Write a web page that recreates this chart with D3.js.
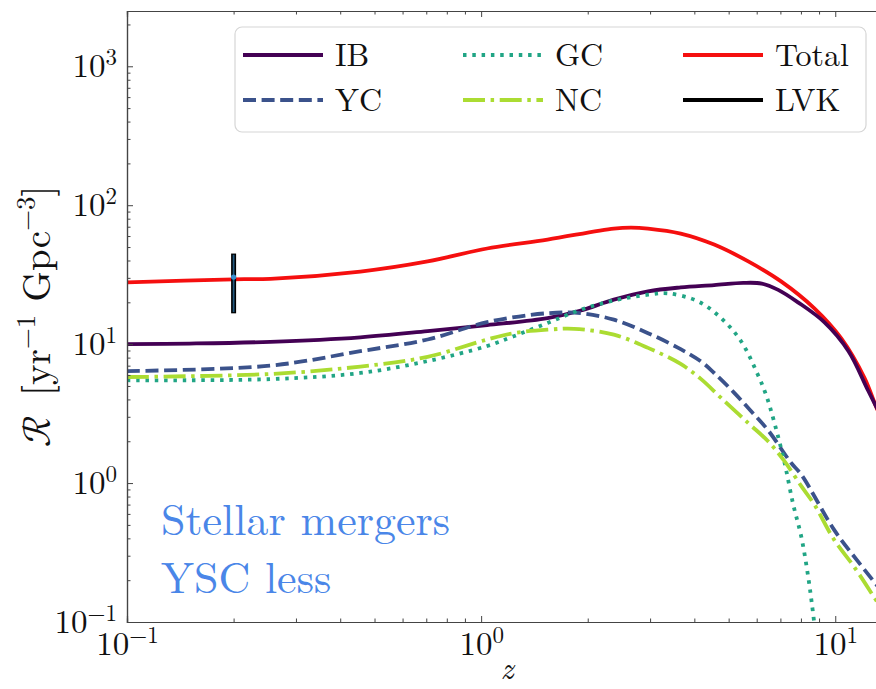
<!DOCTYPE html>
<html>
<head>
<meta charset="utf-8">
<script src="https://cdn.jsdelivr.net/npm/d3@7"></script>
<style>
  body { margin: 0; background: #fff; }
  svg { display: block; }
</style>
</head>
<body>
<svg id="chart" width="876" height="689"></svg>
<script>
// redshift grids and rates
const zIB = [0.1, 0.15, 0.254, 0.456, 0.706, 1.04, 1.54, 1.9, 2.37, 2.96, 3.66, 4.55, 5.5, 6.2, 6.9, 7.85, 9.31, 10.9, 12.4, 14];
const rIB = [10.0, 10.1, 10.4, 11.2, 12.4, 13.7, 15.4, 17.4, 20.9, 24.0, 25.6, 26.6, 27.6, 27.3, 24.6, 20.0, 14.4, 8.9, 4.6, 2.5];

const zYC = [0.1, 0.254, 0.456, 0.706, 1.04, 1.54, 1.91, 2.37, 2.96, 3.66, 4.18, 4.55, 5.17, 5.78, 6.46, 7.5, 8.02, 9.93, 11.5, 13.2, 14];
const rYC = [6.4, 7.0, 8.9, 10.8, 14.4, 16.7, 16.7, 15.0, 12.0, 9.2, 7.5, 6.2, 4.5, 3.3, 2.4, 1.4, 1.15, 0.46, 0.28, 0.18, 0.15];

const zGC = [0.1, 0.254, 0.456, 0.706, 1.04, 1.236, 1.54, 1.91, 2.37, 2.96, 3.37, 4.1, 4.76, 5.42, 6.05, 6.38, 6.71, 7.17, 7.6, 8.02, 8.39, 8.67, 9.0];
const rGC = [5.5, 5.6, 6.2, 7.55, 9.7, 11.4, 14.2, 17.7, 20.6, 22.7, 23.2, 20.3, 15.4, 10.5, 6.0, 4.3, 2.8, 1.45, 0.71, 0.41, 0.21, 0.112, 0.05];

const zNC = [0.1, 0.254, 0.456, 0.706, 1.04, 1.236, 1.54, 1.83, 2.37, 2.96, 3.66, 4.18, 4.76, 5.68, 6.46, 7.17, 8.02, 8.73, 9.93, 11.3, 13.2, 14];
const rNC = [5.8, 6.1, 6.9, 8.1, 10.8, 12.0, 12.7, 12.9, 11.7, 9.4, 7.2, 5.6, 4.1, 2.7, 2.0, 1.45, 0.95, 0.7, 0.39, 0.25, 0.137, 0.11];

const zTot = [0.1, 0.2, 0.254, 0.456, 0.706, 1.04, 1.54, 2.37, 2.65, 2.96, 3.66, 4.55, 5.68, 7.03, 8.73, 10.4, 12.1, 13.2, 14];
const rTot = [27.8, 29.3, 29.5, 33.3, 39.4, 48.8, 56.6, 67.9, 69, 67.9, 62.5, 52.1, 39.4, 28.3, 18.1, 11.0, 5.7, 3.3, 2.5];

// LVK local rate
const lvkZ = [0.2];
const lvkR = [30.4];
const lvkLo = [17];
const lvkHi = [44];

const xTicks = [0.1, 1, 10];
const xExp = ['\u22121', '0', '1'];
const yTicks = [0.1, 1, 10, 100, 1000];
const yExp = ['\u22121', '0', '1', '2', '3'];

const legendNames = ['IB', 'YC', 'GC', 'NC', 'Total', 'LVK'];
const noteLines = ['Stellar mergers', 'YSC less'];

const LEFT = 127, RIGHT = 887, TOP = 11, BOTTOM = 622;
const CM = '"Latin Modern Roman", "Liberation Serif", serif';
const MATH = '"Latin Modern Math", "Latin Modern Roman", serif';

const svg = d3.select('#chart');

const x = d3.scaleLog().domain([0.1, 14]).range([LEFT, RIGHT]);
const y = d3.scaleLog().domain([0.1, 2500]).range([BOTTOM, TOP]);

svg.append('defs').append('clipPath').attr('id', 'clip')
  .append('rect').attr('x', LEFT).attr('y', TOP)
  .attr('width', RIGHT - LEFT).attr('height', BOTTOM - TOP);

const series = [
  { name: 'IB', z: zIB, r: rIB, color: '#440154', dash: null },
  { name: 'YC', z: zYC, r: rYC, color: '#3b528b', dash: '13,5.6' },
  { name: 'GC', z: zGC, r: rGC, color: '#21a585', dash: '3.5,5.8' },
  { name: 'NC', z: zNC, r: rNC, color: '#abdc32', dash: '22,5.6,3.5,5.6' },
  { name: 'Total', z: zTot, r: rTot, color: '#f50f0f', dash: null }
];

const line = d3.line()
  .x(d => x(d[0]))
  .y(d => y(d[1]))
  .curve(d3.curveCatmullRom.alpha(0.5));

const plot = svg.append('g').attr('clip-path', 'url(#clip)');

// Total first so IB sits on top at high z
[series[4], series[0], series[1], series[2], series[3]].forEach(s => {
  plot.append('path')
    .datum(s.z.map((z, i) => [z, s.r[i]]))
    .attr('d', line)
    .attr('fill', 'none')
    .attr('stroke', s.color)
    .attr('stroke-width', 3.8)
    .attr('stroke-dasharray', s.dash);
});

// LVK errorbar
lvkZ.forEach((z, i) => {
  plot.append('line')
    .attr('x1', x(z)).attr('x2', x(z))
    .attr('y1', y(lvkHi[i]) - 1.2).attr('y2', y(lvkLo[i]) + 1.2)
    .attr('stroke', '#000').attr('stroke-width', 5);
  plot.append('line')
    .attr('x1', x(z)).attr('x2', x(z))
    .attr('y1', y(lvkHi[i])).attr('y2', y(lvkLo[i]))
    .attr('stroke', '#22597f').attr('stroke-width', 1.8);
  plot.append('circle')
    .attr('cx', x(z)).attr('cy', y(lvkR[i])).attr('r', 2.6)
    .attr('fill', '#3a8fd0');
});

// minor tick positions 2..9 x 10^n inside the domain
function minors(dom) {
  const out = [];
  for (let e = Math.floor(Math.log10(dom[0])); e <= Math.ceil(Math.log10(dom[1])); e++) {
    for (let k = 2; k <= 9; k++) {
      const v = k * Math.pow(10, e);
      if (v > dom[0] && v < dom[1]) out.push(v);
    }
  }
  return out;
}
const xMinor = minors(x.domain());
const yMinor = minors(y.domain());

function styleAxis(g) {
  g.select('.domain').attr('stroke', '#444').attr('stroke-width', 1.2);
  g.selectAll('.tick line').attr('stroke', '#444').attr('stroke-width', 1);
}

const axes = [
  { mk: () => d3.axisBottom(x), t: `translate(0,${BOTTOM})`, labels: true, exps: xExp, vals: xTicks, minor: xMinor, bottom: true },
  { mk: () => d3.axisTop(x), t: `translate(0,${TOP})`, labels: false, vals: xTicks, minor: xMinor },
  { mk: () => d3.axisLeft(y), t: `translate(${LEFT},0)`, labels: true, exps: yExp, vals: yTicks, minor: yMinor },
  { mk: () => d3.axisRight(y), t: `translate(${RIGHT},0)`, labels: false, vals: yTicks, minor: yMinor }
];

axes.forEach(a => {
  svg.append('g').attr('transform', a.t)
    .call(a.mk().tickValues(a.minor).tickSize(-3.5).tickFormat(() => ''))
    .call(styleAxis);
  const g = svg.append('g').attr('transform', a.t)
    .call(a.mk().tickValues(a.vals).tickSize(-6).tickPadding(a.bottom ? 9 : 10).tickFormat(() => ''))
    .call(styleAxis);
  if (a.labels) {
    g.selectAll('.tick text').each(function(d, i) {
      const t = d3.select(this)
        .attr('font-size', 33)
        .style('font-family', CM)
        .attr('fill', '#111');
      if (a.bottom) t.attr('dy', '0.72em');
      t.append('tspan').text('10');
      t.append('tspan').attr('font-size', 23).attr('dy', -12).text(a.exps[i]);
    });
  }
});

// axis labels
const yl = svg.append('text')
  .attr('transform', `translate(50,${(TOP + BOTTOM) / 2}) rotate(-90)`)
  .attr('text-anchor', 'middle')
  .attr('font-size', 39)
  .style('font-family', CM)
  .attr('fill', '#111');
yl.append('tspan').style('font-family', MATH).text('\u211B');
yl.append('tspan').text('\u2002[yr');
yl.append('tspan').attr('font-size', 27).attr('dy', -15).text('\u22121');
yl.append('tspan').attr('dy', 15).text(' Gpc');
yl.append('tspan').attr('font-size', 27).attr('dy', -15).text('\u22123');
yl.append('tspan').attr('dy', 15).text(']');

svg.append('text')
  .attr('x', (LEFT + RIGHT) / 2).attr('y', 679)
  .attr('text-anchor', 'middle')
  .attr('font-size', 32)
  .attr('font-style', 'italic')
  .style('font-family', CM)
  .attr('fill', '#111')
  .text('z');

// annotation, one text element per line
noteLines.forEach((t, i) => {
  svg.append('text')
    .attr('x', 161).attr('y', 535 + i * 58)
    .attr('font-size', 44)
    .style('font-family', CM)
    .style('fill', '#4a86e8')
    .text(t);
});

// legend
const leg = svg.append('g');
leg.append('rect')
  .attr('x', 235).attr('y', 27).attr('width', 631).attr('height', 105)
  .attr('rx', 7)
  .attr('fill', '#fff').attr('fill-opacity', 0.85)
  .attr('stroke', '#d6d6d6').attr('stroke-width', 1.2);

const legItems = legendNames.map(n => {
  const s = series.find(d => d.name === n);
  return s ? { name: n, color: s.color, dash: s.dash } : { name: n, color: '#000', dash: null };
});
const colX = [243, 463, 683];
const rowY = [55, 100];
legItems.forEach((d, i) => {
  const cx = colX[Math.floor(i / 2)], cy = rowY[i % 2];
  leg.append('line')
    .attr('x1', cx).attr('x2', cx + 80)
    .attr('y1', cy).attr('y2', cy)
    .attr('stroke', d.color).attr('stroke-width', 3.8)
    .attr('stroke-dasharray', d.dash);
  leg.append('text')
    .attr('x', cx + 92).attr('y', cy + 11)
    .attr('font-size', 32)
    .style('font-family', CM)
    .attr('fill', '#111')
    .text(d.name);
});
</script>
</body>
</html>
